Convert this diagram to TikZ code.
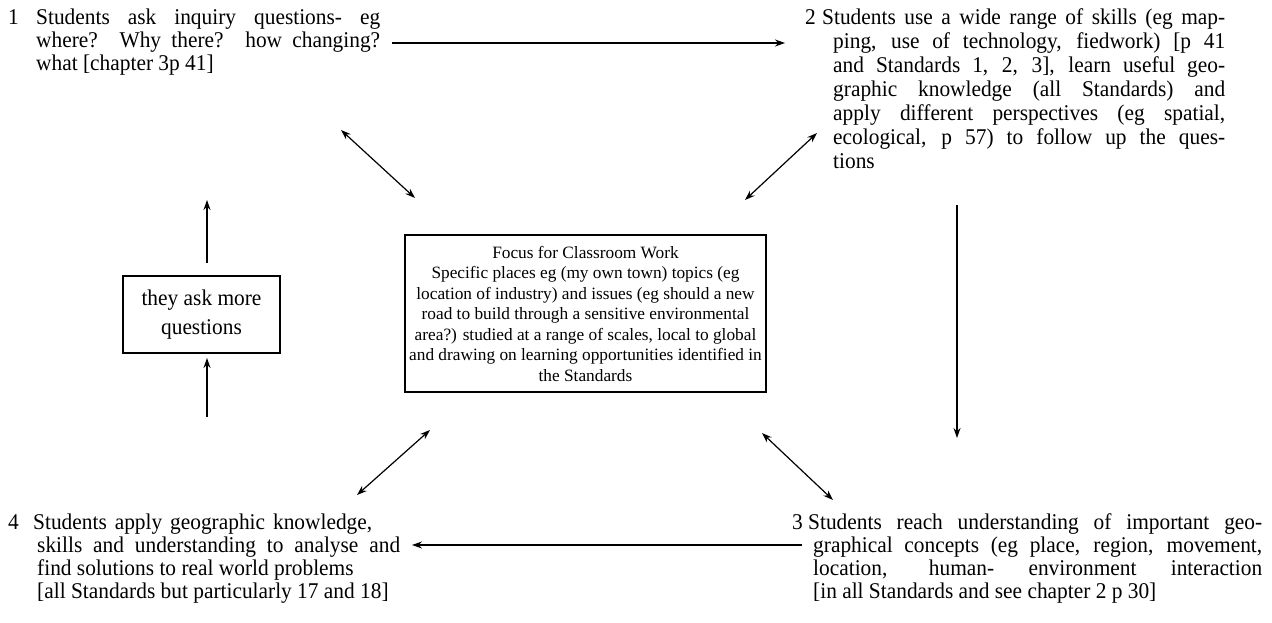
\documentclass[tikz,border=0pt]{standalone}
\usepackage{fontspec}
\setmainfont{Liberation Serif}[FakeStretch=0.95]
\newfontfamily\ctrfont{Liberation Serif}
\usetikzlibrary{arrows.meta}
\newcommand\jl[2]{\hbox{\makebox[#1][s]{#2}}}
\newcommand\il[3]{\hbox{\hskip#1\relax\makebox[#2][s]{#3}}}
\newcommand\nl[2]{\hbox{\hskip#1\relax #2}}
\begin{document}
\begin{tikzpicture}[x=1pt,y=-1pt,
  txt/.style={anchor=base west,inner sep=0pt,font=\fontsize{22.5}{23}\selectfont},
  arr/.style={line width=1.2pt,-{Stealth[length=10pt,width=7pt]}},
  darr/.style={line width=1.2pt,{Stealth[length=10pt,width=7pt]}-{Stealth[length=10pt,width=7pt]}},
  boxed/.style={draw,line width=1.5pt,inner sep=0pt,align=center}]
\useasboundingbox (0,0) rectangle (1272,623);

% block 1
\node[txt] (n1) at (8,25) {1};
\node[txt] (b1) at (36,25) {\vtop{\baselineskip=23pt
  \jl{344pt}{Students ask inquiry questions- eg}
  \jl{344pt}{where? Why there? how changing?}
  \nl{0pt}{what [chapter 3p 41]}}};

% block 2
\node[txt] (n2) at (805,25) {2};
\node[txt] (b2) at (822,25) {\vtop{\baselineskip=24pt
  \jl{403pt}{Students use a wide range of skills (eg map-}
  \il{11pt}{392pt}{ping, use of technology, fiedwork) [p 41}
  \il{11pt}{392pt}{and Standards 1, 2, 3], learn useful geo-}
  \il{11pt}{392pt}{graphic knowledge (all Standards) and}
  \il{11pt}{392pt}{apply different perspectives (eg spatial,}
  \il{11pt}{392pt}{ecological, p 57) to follow up the ques-}
  \nl{11pt}{tions}}};

% block 3
\node[txt] (n3) at (792,529) {3};
\node[txt] (b3) at (808,529) {\vtop{\baselineskip=23pt
  \jl{454pt}{Students reach understanding of important geo-}
  \il{5pt}{449pt}{graphical concepts (eg place, region, movement,}
  \il{5pt}{449pt}{location, human- environment interaction}
  \nl{5pt}{[in all Standards and see chapter 2 p 30]}}};

% block 4
\node[txt] (n4) at (8,529) {4};
\node[txt] (b4) at (33,529) {\vtop{\baselineskip=23pt
  \jl{339pt}{Students apply geographic knowledge,}
  \il{4pt}{363pt}{skills and understanding to analyse and}
  \nl{4pt}{find solutions to real world problems}
  \nl{4pt}{[all Standards but particularly 17 and 18]}}};

% centre box
\node[boxed,minimum width=361pt,minimum height=157pt,font=\ctrfont\fontsize{17.3}{20.5}\selectfont] (focus) at (585.5,313.5)
  {Focus for Classroom Work\\
   Specific places eg (my own town) topics (eg\\
   location of industry) and issues (eg should a new\\
   road to build through a sensitive environmental\\
   area?) studied at a range of scales, local to global\\
   and drawing on learning opportunities identified in\\
   the Standards};

% left box
\node[boxed,minimum width=157pt,minimum height=77pt,font=\fontsize{22.5}{29}\selectfont] (more) at (201.5,314.5)
  {they ask more\\questions};

% coordinates for free arrow ends
\coordinate (h1s) at (392,43);  \coordinate (h1e) at (785,43);
\coordinate (v2s) at (957,205); \coordinate (v2e) at (957,438);
\coordinate (h3s) at (802,545); \coordinate (h3e) at (412,545);
\coordinate (u1s) at (207,263); \coordinate (u1e) at (207,200);
\coordinate (u2s) at (207,417); \coordinate (u2e) at (207,358);
\coordinate (tla) at (341,130); \coordinate (tlb) at (415,198);
\coordinate (tra) at (745,200); \coordinate (trb) at (817,133);
\coordinate (bla) at (357,495); \coordinate (blb) at (430,430);
\coordinate (bra) at (762,433); \coordinate (brb) at (833,500);

\draw[arr] (h1s) -- (h1e);
\draw[arr] (v2s) -- (v2e);
\draw[arr] (h3s) -- (h3e);
\draw[arr] (u1s) -- (u1e);
\draw[arr] (u2s) -- (u2e);
\draw[darr] (tla) -- (tlb);
\draw[darr] (tra) -- (trb);
\draw[darr] (bla) -- (blb);
\draw[darr] (bra) -- (brb);
\end{tikzpicture}
\end{document}
